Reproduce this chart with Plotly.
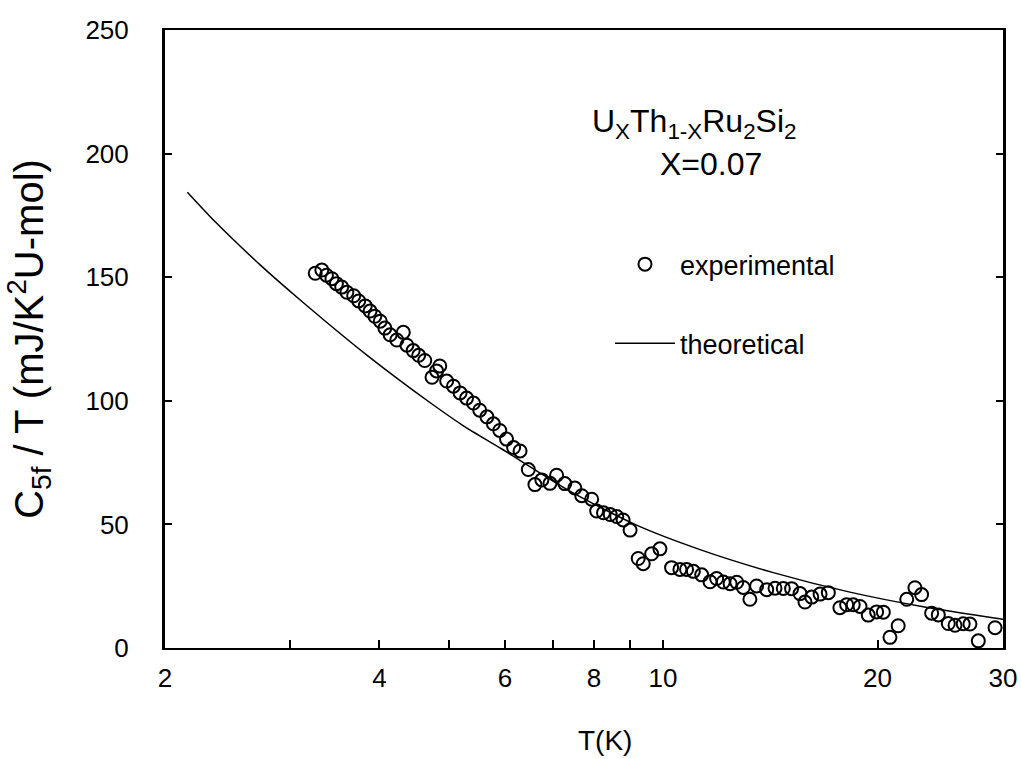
import plotly.graph_objects as go

# Experimental C5f/T data (T in K, value in mJ/K^2 U-mol)
exp_T = [3.25, 3.32, 3.37, 3.43, 3.48, 3.54, 3.60, 3.68, 3.74, 3.82, 3.88, 3.94,
         4.01, 4.07, 4.14, 4.23, 4.32, 4.37, 4.46, 4.54, 4.63, 4.74, 4.81, 4.86,
         4.97, 5.08, 5.19, 5.30, 5.42, 5.53, 5.66, 5.78, 5.90, 6.03, 6.17, 6.30,
         6.47, 6.61, 6.76, 6.94, 7.09, 7.28, 7.52, 7.69, 7.94, 8.07, 8.25, 8.43,
         8.61, 8.79, 8.99, 9.23, 9.38, 9.64, 9.90, 10.28, 10.56, 10.79, 11.03,
         11.33, 11.64, 11.89, 12.15, 12.42, 12.69, 12.96, 13.24, 13.53, 13.98,
         14.36, 14.75, 15.15, 15.57, 15.82, 16.17, 16.61, 17.06, 17.71, 18.10,
         18.49, 18.90, 19.41, 19.94, 20.38, 20.82, 21.38, 21.98, 22.57, 23.06,
         23.82, 24.34, 25.14, 25.69, 26.38, 26.96, 27.70, 29.24]
exp_C = [151.6, 152.9, 150.8, 149.4, 147.4, 146.0, 143.9, 142.5, 140.4, 138.4, 136.3, 134.2,
         132.2, 129.4, 126.7, 124.6, 127.7, 122.5, 120.3, 118.4, 116.3, 109.5, 112.1, 114.1,
         108.0, 105.9, 103.2, 101.1, 99.1, 96.2, 93.5, 90.7, 88.0, 84.5, 81.1, 79.7,
         72.2, 66.1, 68.0, 66.6, 69.9, 66.5, 64.7, 61.6, 60.2, 55.4, 54.7, 54.0,
         53.2, 51.8, 47.7, 36.2, 34.1, 38.1, 40.1, 32.5, 31.8, 31.8, 31.0,
         29.6, 26.8, 28.1, 26.7, 26.0, 26.6, 24.5, 19.7, 25.1, 23.6,
         24.2, 24.1, 24.0, 22.0, 18.6, 20.6, 21.8, 22.4, 16.3, 17.5,
         17.5, 16.8, 13.3, 14.6, 14.5, 4.3, 9.0, 19.7, 24.4, 21.6,
         14.1, 13.4, 9.9, 9.2, 9.8, 9.7, 2.9, 8.2]

# Theoretical curve
th_T = [2.15, 2.36, 2.72, 3.09, 3.84, 4.74, 5.24, 5.94, 7.40, 9.18, 11.27, 14.28, 18.29, 23.18, 30.0]
th_C = [184.4, 172.0, 155.0, 141.0, 118.5, 98.7, 90.0, 80.5, 63.5, 49.7, 39.8, 30.5, 22.6, 16.7, 11.6]

x_tickvals = [2, 4, 6, 8, 10, 20, 30]
x_ticktext = ["2", "4", "6", "8", "10", "20", "30"]
x_minor_tickvals = [3, 5, 7, 9]
y_tickvals = [0, 50, 100, 150, 200, 250]

FONT = "Liberation Sans"

fig = go.Figure()
fig.add_trace(go.Scatter(
    x=exp_T, y=exp_C, mode="markers", name="experimental",
    marker=dict(symbol="circle-open", size=13, color="black", line=dict(width=2, color="black")),
    legendgroup="a",
))
fig.add_trace(go.Scatter(
    x=th_T, y=th_C, mode="lines", name="theoretical",
    line=dict(color="black", width=1.5, shape="spline", smoothing=0.7),
    legendgroup="b",
))

fig.update_layout(
    width=1021, height=759,
    margin=dict(l=165, r=18, t=30, b=111),
    paper_bgcolor="white", plot_bgcolor="white",
    font=dict(family=FONT, color="black", size=22),
    showlegend=True,
    legend=dict(
        x=0.531, y=0.66, xanchor="left", yanchor="top",
        bgcolor="rgba(0,0,0,0)", font=dict(size=27, family=FONT),
        tracegroupgap=41, traceorder="grouped", itemwidth=60,
    ),
    annotations=[
        dict(text="U<sub>X</sub>Th<sub>1-X</sub>Ru<sub>2</sub>Si<sub>2</sub>",
             xref="paper", yref="paper", x=0.632, y=0.848, xanchor="center", yanchor="middle",
             showarrow=False, font=dict(size=32, family=FONT)),
        dict(text="X=0.07",
             xref="paper", yref="paper", x=0.652, y=0.783, xanchor="center", yanchor="middle",
             showarrow=False, font=dict(size=32, family=FONT)),
        dict(text="T(K)",
             xref="paper", yref="paper", x=0.525, y=-0.149, xanchor="center", yanchor="middle",
             showarrow=False, font=dict(size=28, family=FONT)),
    ],
)

fig.update_xaxes(
    type="log", range=[0.30103, 1.47712], automargin=False,
    tickmode="array", tickvals=x_tickvals, ticktext=x_ticktext,
    ticks="inside", ticklen=8, tickwidth=1.5, tickcolor="black",
    minor=dict(tickmode="array", tickvals=x_minor_tickvals, ticks="inside",
               ticklen=8, tickwidth=1.5, tickcolor="black", showgrid=False),
    showline=True, linecolor="black", linewidth=2, mirror=True,
    showgrid=False, zeroline=False,
    tickfont=dict(size=26, family=FONT), ticklabelstandoff=6,
)
fig.update_yaxes(
    range=[0, 250], tickvals=y_tickvals, automargin=False,
    ticks="inside", ticklen=7, tickwidth=1.5, tickcolor="black",
    showline=True, linecolor="black", linewidth=3, mirror="ticks",
    showgrid=False, zeroline=False,
    tickfont=dict(size=26, family=FONT), ticklabelstandoff=28,
    title=dict(text="C<sub>5f</sub> / T (mJ/K<sup>2</sup>U-mol)", font=dict(size=40, family=FONT), standoff=30),
)

fig.write_html("out.html", config={"displayModeBar": False},
               post_script="document.body.style.margin='0';")
